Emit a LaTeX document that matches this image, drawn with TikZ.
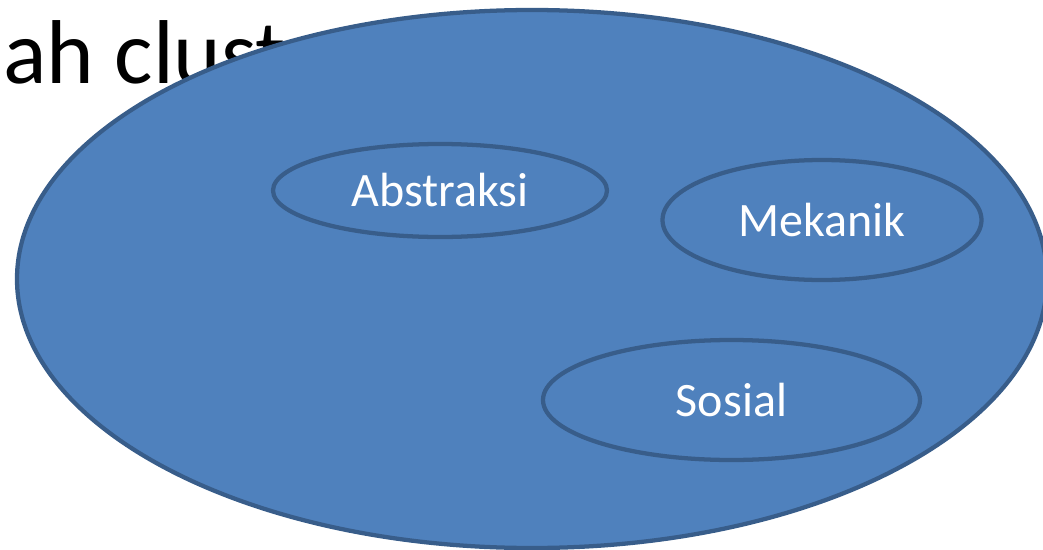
\documentclass[tikz,border=0pt]{standalone}
\usepackage{fontspec}
\setmainfont{Carlito}
\usetikzlibrary{shapes.geometric}
\definecolor{fillblue}{HTML}{4F81BD}
\definecolor{edgeblue}{HTML}{385D8A}
\begin{document}
\begin{tikzpicture}[x=0.75pt,y=-0.75pt,
  bigoval/.style={ellipse,fill=fillblue,draw=edgeblue,line width=3.2pt,inner sep=0pt},
  cluster/.style={ellipse,draw=edgeblue,line width=3.2pt,inner sep=0pt,text=white,
    font=\fontsize{36}{40}\selectfont}]
\useasboundingbox (0,0) rectangle (1043,550);
\node[anchor=base west,inner sep=0pt,font=\fontsize{68}{80}\selectfont] (title) at (3,83) {ah clust};
\node[bigoval,minimum width=1030*0.75pt,minimum height=538*0.75pt] (big) at (532,279) {};
\node[cluster,minimum width=334*0.75pt,minimum height=93*0.75pt] (abs) at (440,190.5) {Abstraksi};
\node[cluster,minimum width=319*0.75pt,minimum height=120*0.75pt] (mek) at (822,220) {Mekanik};
\node[cluster,minimum width=377*0.75pt,minimum height=120*0.75pt] (sos) at (731.5,400) {Sosial};
\end{tikzpicture}
\end{document}
